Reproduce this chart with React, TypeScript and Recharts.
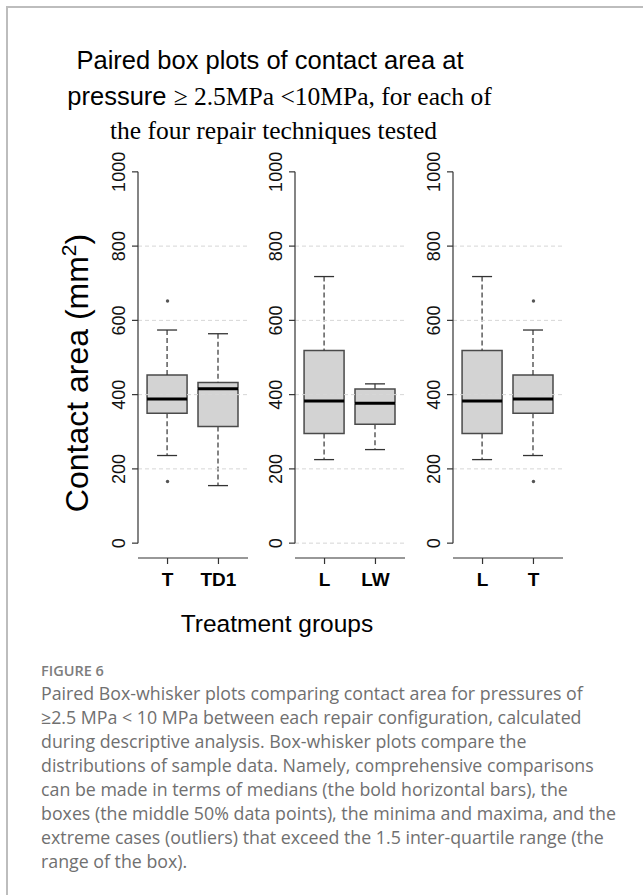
import React from "react";
import { ComposedChart, Bar, Scatter, XAxis, YAxis, ReferenceLine } from "recharts";

// box-plot statistics (contact area, mm2)
const groups = ["T", "TD1", "L", "LW"];
const lowerWhisker = [236, 155, 225, 252];
const lowerQuartile = [350, 314, 295, 320];
const medians = [388, 416, 383, 377];
const upperQuartile = [453, 433, 519, 415];
const upperWhisker = [574, 564, 718, 429];
const outlierGroups = ["T", "T"];
const outlierValues = [652, 166];

const panels = [
  ["T", "TD1"],
  ["L", "LW"],
  ["L", "T"],
];
const panelGrid = [
  [200, 400, 600, 800],
  [0, 200, 400, 600, 800],
  [200, 400, 600, 800],
];
const yTicks = [0, 200, 400, 600, 800, 1000];

const captionLines = [
  "Paired Box-whisker plots comparing contact area for pressures of",
  "≥2.5 MPa < 10 MPa between each repair configuration, calculated",
  "during descriptive analysis. Box-whisker plots compare the",
  "distributions of sample data. Namely, comprehensive comparisons",
  "can be made in terms of medians (the bold horizontal bars), the",
  "boxes (the middle 50% data points), the minima and maxima, and the",
  "extreme cases (outliers) that exceed the 1.5 inter-quartile range (the",
  "range of the box).",
];

const AXIS = "#333";
const SANS = "Liberation Sans, Arial, sans-serif";
const SERIF = "Liberation Serif, Times New Roman, serif";
const X_DOMAIN = [0.42, 2.58];

const buildRow = (g: string, pos: number) => {
  const i = groups.indexOf(g);
  return {
    pos,
    name: g,
    base: lowerWhisker[i],
    lowWhisk: lowerQuartile[i] - lowerWhisker[i],
    lowBox: medians[i] - lowerQuartile[i],
    highBox: upperQuartile[i] - medians[i],
    highWhisk: upperWhisker[i] - upperQuartile[i],
  };
};

const WhiskerLow = (p: any) => {
  const cx = p.x + p.width / 2;
  const bot = p.y + p.height;
  const cap = p.width / 4;
  return (
    <g>
      <line x1={cx} x2={cx} y1={p.y} y2={bot} stroke={AXIS} strokeWidth={1.2} strokeDasharray="5 3" />
      <line x1={cx - cap} x2={cx + cap} y1={bot} y2={bot} stroke={AXIS} strokeWidth={1.3} />
    </g>
  );
};

const WhiskerHigh = (p: any) => {
  const cx = p.x + p.width / 2;
  const cap = p.width / 4;
  return (
    <g>
      <line x1={cx} x2={cx} y1={p.y} y2={p.y + p.height} stroke={AXIS} strokeWidth={1.2} strokeDasharray="5 3" />
      <line x1={cx - cap} x2={cx + cap} y1={p.y} y2={p.y} stroke={AXIS} strokeWidth={1.3} />
    </g>
  );
};

const BoxLow = (p: any) => {
  const { x, y, width: w, height: h } = p;
  return (
    <g>
      <rect x={x} y={y} width={w} height={h} fill="#d3d3d3" />
      <polyline points={`${x},${y} ${x},${y + h} ${x + w},${y + h} ${x + w},${y}`} fill="none" stroke="#4a4a4a" strokeWidth={1.5} />
    </g>
  );
};

const BoxHigh = (p: any) => {
  const { x, y, width: w, height: h } = p;
  return (
    <g>
      <rect x={x} y={y} width={w} height={h} fill="#d3d3d3" />
      <polyline points={`${x},${y + h} ${x},${y} ${x + w},${y} ${x + w},${y + h}`} fill="none" stroke="#4a4a4a" strokeWidth={1.5} />
      <line x1={x} x2={x + w} y1={y + h} y2={y + h} stroke="#000" strokeWidth={3} />
    </g>
  );
};

const YTick = (p: any) => {
  const { x, y, payload } = p;
  return (
    <text x={x} y={y} transform={`rotate(-90, ${x}, ${y})`} textAnchor="middle" fontSize={18} fontFamily={SANS} fill="#111">
      {payload.value}
    </text>
  );
};

const Panel = ({ pair, grid, left }: { pair: string[]; grid: number[]; left: number }) => {
  const rows = pair.map((g, i) => buildRow(g, i + 1));
  const outliers = outlierGroups
    .map((g, i) => ({ g, v: outlierValues[i] }))
    .filter((o) => pair.includes(o.g))
    .map((o) => ({ pos: pair.indexOf(o.g) + 1, value: o.v }));
  return (
    <div style={{ position: "absolute", left, top: 147 }}>
      <ComposedChart width={154} height={451} data={rows} margin={{ top: 10, right: 4, bottom: 0, left: 0 }}>
        {grid.map((v) => (
          <ReferenceLine key={v} y={v} stroke="#d6d6d6" strokeDasharray="4 3" strokeWidth={1} />
        ))}
        <XAxis
          type="number"
          dataKey="pos"
          domain={X_DOMAIN}
          allowDataOverflow
          ticks={[1, 2]}
          interval={0}
          tickFormatter={(v: number) => pair[v - 1]}
          axisLine={{ stroke: AXIS, strokeWidth: 1.2 }}
          tickLine={{ stroke: AXIS, strokeWidth: 1.2 }}
          tickSize={6}
          tickMargin={9}
          height={40}
          tick={{ fontSize: 19, fontWeight: 700, fill: "#000", fontFamily: SANS }}
        />
        <YAxis
          type="number"
          domain={[-40, 1040]}
          allowDataOverflow
          ticks={yTicks}
          interval={0}
          width={40}
          axisLine={false}
          tickLine={{ stroke: AXIS, strokeWidth: 1.2 }}
          tickSize={6}
          tickMargin={7}
          tick={<YTick />}
        />
        <ReferenceLine
          segment={[
            { x: X_DOMAIN[0], y: 0 },
            { x: X_DOMAIN[0], y: 1000 },
          ]}
          stroke={AXIS}
          strokeWidth={1.2}
          ifOverflow="visible"
        />
        <Bar dataKey="base" stackId="s" fill="none" barSize={40} isAnimationActive={false} />
        <Bar dataKey="lowWhisk" stackId="s" barSize={40} shape={WhiskerLow} isAnimationActive={false} />
        <Bar dataKey="lowBox" stackId="s" barSize={40} shape={BoxLow} isAnimationActive={false} />
        <Bar dataKey="highBox" stackId="s" barSize={40} shape={BoxHigh} isAnimationActive={false} />
        <Bar dataKey="highWhisk" stackId="s" barSize={40} shape={WhiskerHigh} isAnimationActive={false} />
        {outliers.length > 0 && (
          <Scatter
            data={outliers}
            dataKey="value"
            isAnimationActive={false}
            shape={(p: any) => <circle cx={p.cx} cy={p.cy} r={1.7} fill="#555" />}
          />
        )}
      </ComposedChart>
    </div>
  );
};

export default function App() {
  const plotLefts = [137.7, 295.3, 453.3];
  return (
    <div style={{ position: "absolute", left: 0, top: 0, width: 643, height: 895, overflow: "hidden", background: "#fff" }}>
      <svg width={643} height={895} style={{ position: "absolute", left: 0, top: 0 }}>
        <text x={270} y={69} textAnchor="middle" fontSize={25.5} fontFamily={SANS} fill="#000">
          Paired box plots of contact area at
        </text>
        <text x={279.5} y={104.5} textAnchor="middle" fontSize={25.5} fill="#000">
          <tspan fontFamily={SANS}>pressure </tspan>
          <tspan fontFamily={SERIF}>≥ 2.5MPa &lt;10MPa, for each of</tspan>
        </text>
        <text x={273.5} y={138.5} textAnchor="middle" fontSize={25.5} fontFamily={SERIF} fill="#000">
          the four repair techniques tested
        </text>
        <text x={88} y={373} transform="rotate(-90, 88, 373)" textAnchor="middle" fontSize={32} fontFamily={SANS} fill="#000">
          Contact area (mm
          <tspan dy={-12} fontSize={21}>2</tspan>
          <tspan dy={12}>)</tspan>
        </text>
        <text x={277} y={632} textAnchor="middle" fontSize={24.5} fontFamily={SANS} fill="#000">
          Treatment groups
        </text>
      </svg>
      {panels.map((pair, i) => (
        <Panel key={i} pair={pair} grid={panelGrid[i]} left={plotLefts[i] - 40} />
      ))}
      <div
        style={{
          position: "absolute",
          left: 41,
          top: 661,
          fontFamily: "Open Sans, sans-serif",
          fontWeight: 600,
          fontSize: 14.5,
          color: "#7d7d7d",
        }}
      >
        FIGURE 6
      </div>
      <div style={{ position: "absolute", left: 41, top: 681, fontFamily: "Open Sans, sans-serif", fontSize: 17.8, lineHeight: "24px", color: "#707070" }}>
        {captionLines.map((l, i) => (
          <div key={i} style={{ whiteSpace: "nowrap" }}>
            {l}
          </div>
        ))}
      </div>
      <div
        style={{
          position: "absolute",
          left: 6,
          top: 6,
          width: 720,
          height: 1000,
          borderTop: "2px solid #bdbdbd",
          borderLeft: "2px solid #bdbdbd",
          pointerEvents: "none",
          zIndex: 10,
        }}
      />
    </div>
  );
}
